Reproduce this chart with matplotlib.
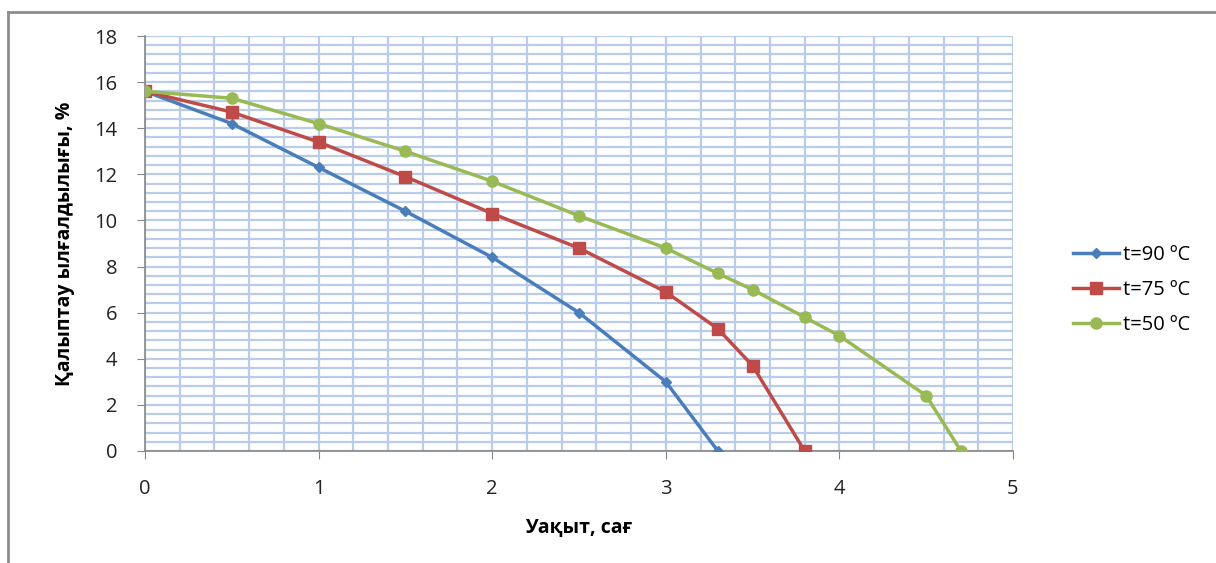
import numpy as np
import matplotlib.pyplot as plt
from matplotlib.lines import Line2D

# Данные
x_90 = [0, 0.5, 1, 1.5, 2, 2.5, 3, 3.3]
y_90 = [15.6, 14.2, 12.3, 10.4, 8.4, 6.0, 3.0, 0]

x_75 = [0, 0.5, 1, 1.5, 2, 2.5, 3, 3.3, 3.5, 3.8]
y_75 = [15.6, 14.7, 13.4, 11.9, 10.3, 8.8, 6.9, 5.3, 3.7, 0]

x_50 = [0, 0.5, 1, 1.5, 2, 2.5, 3, 3.3, 3.5, 3.8, 4, 4.5, 4.7]
y_50 = [15.6, 15.3, 14.2, 13.0, 11.7, 10.2, 8.8, 7.7, 7.0, 5.8, 5.0, 2.4, 0]

labels = ['t=90 ºC', 't=75 ºC', 't=50 ºC']
colors = ['#4A7EBB', '#BE4B48', '#98B954']

plt.rcParams['font.family'] = ['Open Sans', 'DejaVu Sans']

fig = plt.figure(figsize=(12.16, 5.63), dpi=100)
ax = fig.add_axes([145 / 1216, 1 - 451 / 563, (1013 - 145) / 1216, (451 - 36) / 563])

grid_col = '#B9CDEB'
ax.set_xticks(np.arange(0, 5.01, 0.2), minor=True)
ax.set_yticks(np.arange(0, 18.01, 0.4), minor=True)
ax.grid(which='both', color=grid_col, linewidth=1.6, zorder=0)
ax.set_axisbelow(True)

ax.plot(x_90, y_90, color=colors[0], lw=2.5, marker='D', ms=5, zorder=3)
ax.plot(x_75, y_75, color=colors[1], lw=2.5, marker='s', ms=8, zorder=3)
ax.plot(x_50, y_50, color=colors[2], lw=2.5, marker='o', ms=8, zorder=3)

ax.set_xlim(0, 5)
ax.set_ylim(0, 18)
ax.set_xticks(range(0, 6))
ax.set_yticks(range(0, 19, 2))
ax.tick_params(which='minor', length=0)
ax.tick_params(which='major', direction='out', length=6, color='#868686', labelsize=14.5, colors='#222222')
ax.tick_params(axis='x', pad=14)
ax.tick_params(axis='y', pad=14)
for s in ['top', 'right']:
    ax.spines[s].set_visible(False)
for s in ['left', 'bottom']:
    ax.spines[s].set_color('#868686')
    ax.spines[s].set_linewidth(1.2)

ax.set_xlabel('Уақыт, сағ', fontsize=14, fontweight='bold', labelpad=14)
ax.set_ylabel('Қалыптау ылғалдылығы, %', fontsize=14, fontweight='bold', labelpad=14)

handles = [Line2D([], [], color=colors[0], lw=2.5, marker='D', ms=5),
           Line2D([], [], color=colors[1], lw=2.5, marker='s', ms=8),
           Line2D([], [], color=colors[2], lw=2.5, marker='o', ms=8)]
fig.legend(handles, labels, loc='center left', bbox_to_anchor=(1055 / 1216, 1 - 290 / 563),
           frameon=False, fontsize=14.5, handlelength=2.3, labelspacing=0.75, handletextpad=0.2)

# рамка диаграммы
fig.add_artist(Line2D([8 / 1216, 1], [1 - 12 / 563, 1 - 12 / 563], color='#8C8C8C', lw=2))
fig.add_artist(Line2D([8 / 1216, 8 / 1216], [0, 1 - 12 / 563], color='#8C8C8C', lw=2))

fig.savefig('out.png', dpi=100)
